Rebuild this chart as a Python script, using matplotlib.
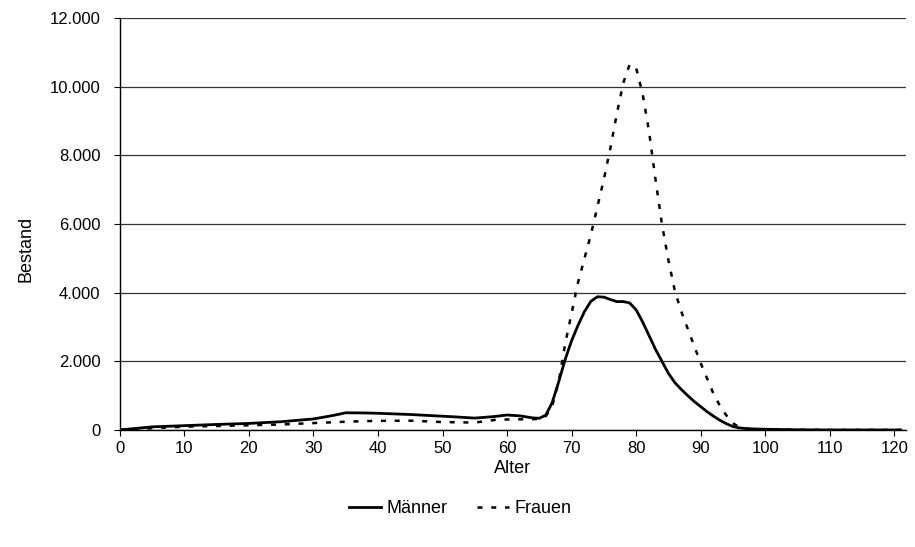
#!/usr/bin/env python

# Bestand nach Alter, Maenner und Frauen

import matplotlib
matplotlib.use('Agg')
import matplotlib.pyplot as plt
from matplotlib.ticker import FuncFormatter, MultipleLocator
from matplotlib.lines import Line2D

plt.rcParams['font.family'] = ['Liberation Sans', 'DejaVu Sans']

# values
alterMaenner = [0, 5, 10, 15, 20, 25, 30, 33, 35, 38, 40, 45, 48, 52, 55, 58, 60, 62, 64, 65,
                66, 67, 68, 69, 70, 71, 72, 73, 74, 75, 76, 77, 78, 79, 80, 81, 82, 83, 84,
                85, 86, 87, 88, 89, 90, 91, 92, 93, 94, 95, 96, 97, 98, 100, 105, 110, 121]
maenner = [0, 90, 125, 160, 190, 240, 320, 420, 500, 495, 485, 450, 420, 380, 345, 390, 435, 410, 350, 340,
           430, 800, 1400, 2050, 2600, 3050, 3450, 3750, 3880, 3870, 3800, 3740, 3740, 3700, 3500, 3150, 2750, 2350, 2000,
           1650, 1380, 1180, 1000, 830, 680, 530, 400, 280, 180, 100, 60, 40, 30, 20, 5, 0, 0]

alterFrauen = [0, 5, 10, 15, 20, 25, 30, 35, 40, 45, 50, 55, 58, 60, 64, 65,
               66, 67, 68, 69, 70, 71, 72, 73, 74, 75, 76, 77, 78, 79, 80, 81, 82, 83, 84,
               85, 86, 87, 88, 89, 90, 91, 92, 93, 94, 95, 96, 97, 98, 100, 110, 121]
frauen = [0, 50, 95, 115, 135, 160, 200, 240, 265, 270, 230, 215, 290, 305, 315, 320,
          400, 700, 1400, 2500, 3400, 4300, 5000, 5700, 6500, 7300, 8200, 9200, 10100, 10650, 10550, 9800, 8700, 7300, 6000,
          4950, 4050, 3450, 2950, 2450, 1950, 1500, 1050, 700, 420, 200, 70, 40, 20, 10, 0, 0]

fig = plt.figure(figsize=(9.15, 5.47), dpi=100)
ax = fig.add_axes([0.131, 0.214, 0.859, 0.753])

ax.plot(alterMaenner, maenner, color='black', linewidth=2.0, label='Männer')
ax.plot(alterFrauen, frauen, color='black', linewidth=1.8, linestyle=(0, (2, 3.5)), label='Frauen')

ax.set_xlim(0, 121.8)
ax.set_ylim(0, 12000)
ax.xaxis.set_major_locator(MultipleLocator(10))
ax.yaxis.set_major_locator(MultipleLocator(2000))
ax.yaxis.set_major_formatter(FuncFormatter(lambda v, p: '{:,.0f}'.format(v).replace(',', '.')))
ax.yaxis.grid(True, color='#333333', linewidth=0.9)
ax.set_axisbelow(True)

for s in ['top', 'right']:
    ax.spines[s].set_visible(False)
for s in ['left', 'bottom']:
    ax.spines[s].set_linewidth(1.0)

ax.tick_params(axis='both', labelsize=12, direction='out', length=4, width=0.8)
ax.tick_params(axis='y', pad=10)
ax.tick_params(axis='x', pad=4)

ax.set_xlabel('Alter', fontsize=13, labelpad=3)
ax.set_ylabel('Bestand', fontsize=13)
ax.yaxis.set_label_coords(-0.108, 0.44)

handles = [Line2D([], [], color='black', linewidth=2.0),
           Line2D([], [], color='black', linewidth=1.8, linestyle=(0, (2, 3.5)))]
fig.legend(handles, ['Männer', 'Frauen'], loc='center', bbox_to_anchor=(0.503, 0.07),
           ncol=2, frameon=False, fontsize=13, handlelength=1.8, handletextpad=0.3,
           columnspacing=1.6)

plt.savefig('out.png', dpi=100)
